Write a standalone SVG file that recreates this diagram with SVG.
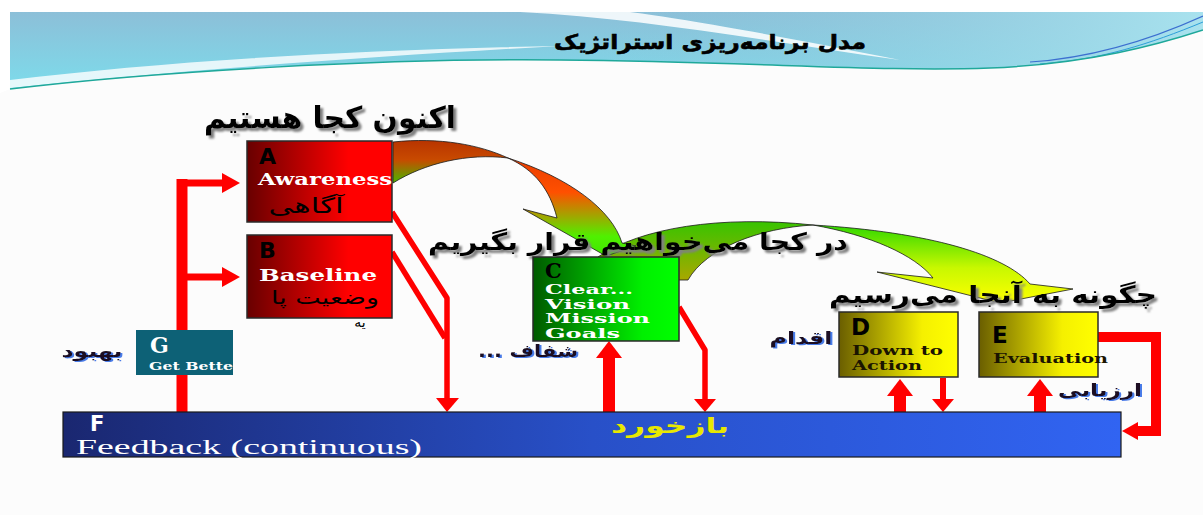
<svg xmlns="http://www.w3.org/2000/svg" width="1203" height="515" viewBox="0 0 1203 515">
<defs>
  <linearGradient id="gBanner" x1="0" y1="0" x2="0" y2="1">
    <stop offset="0" stop-color="#8CBFD8"/>
    <stop offset="1" stop-color="#7CDDEC"/>
  </linearGradient>
  <linearGradient id="gBannerR" x1="0" y1="0" x2="1" y2="0">
    <stop offset="0" stop-color="#8CC4DA" stop-opacity="0"/>
    <stop offset="1" stop-color="#A8E2EE"/>
  </linearGradient>
  <linearGradient id="gRed" x1="0" y1="0" x2="1" y2="0">
    <stop offset="0" stop-color="#680000"/>
    <stop offset="0.7" stop-color="#FF0000"/>
    <stop offset="1" stop-color="#FF0000"/>
  </linearGradient>
  <linearGradient id="gGreen" x1="0" y1="0" x2="1" y2="0">
    <stop offset="0" stop-color="#005A00"/>
    <stop offset="0.75" stop-color="#00F000"/>
    <stop offset="1" stop-color="#00FF00"/>
  </linearGradient>
  <linearGradient id="gYellow" x1="0" y1="0" x2="1" y2="0">
    <stop offset="0" stop-color="#6A5E00"/>
    <stop offset="0.7" stop-color="#F5F000"/>
    <stop offset="1" stop-color="#FFFF00"/>
  </linearGradient>
  <linearGradient id="gBlue" x1="0" y1="0" x2="1" y2="0">
    <stop offset="0" stop-color="#1A2770"/>
    <stop offset="0.5" stop-color="#2850C8"/>
    <stop offset="1" stop-color="#3164F2"/>
  </linearGradient>
  <linearGradient id="gA1" x1="0" y1="0" x2="0" y2="1">
    <stop offset="0" stop-color="#B83400"/>
    <stop offset="0.45" stop-color="#C84A00"/>
    <stop offset="1" stop-color="#48B800"/>
  </linearGradient>
  <linearGradient id="gA2" x1="0" y1="0" x2="0" y2="1">
    <stop offset="0" stop-color="#E83C00"/>
    <stop offset="0.35" stop-color="#FF5000"/>
    <stop offset="0.8" stop-color="#50F000"/>
    <stop offset="1" stop-color="#40E800"/>
  </linearGradient>
  <linearGradient id="gB1" x1="0" y1="0" x2="0" y2="1">
    <stop offset="0" stop-color="#38C400"/>
    <stop offset="1" stop-color="#A8A800"/>
  </linearGradient>
  <linearGradient id="gB2" x1="0" y1="0" x2="0" y2="1">
    <stop offset="0" stop-color="#30D800"/>
    <stop offset="0.55" stop-color="#C8F800"/>
    <stop offset="1" stop-color="#FFFF00"/>
  </linearGradient>
  <filter id="sh" x="-10%" y="-30%" width="130%" height="180%">
    <feGaussianBlur in="SourceAlpha" stdDeviation="1.2" result="b"/>
    <feOffset in="b" dx="3" dy="3" result="o"/>
    <feFlood flood-color="#808080"/>
    <feComposite in2="o" operator="in" result="s"/>
    <feMerge><feMergeNode in="s"/><feMergeNode in="SourceGraphic"/></feMerge>
  </filter>
  <filter id="shb" x="-10%" y="-30%" width="130%" height="180%">
    <feOffset in="SourceAlpha" dx="1.5" dy="1" result="o"/>
    <feFlood flood-color="#4A7BE8"/>
    <feComposite in2="o" operator="in" result="s"/>
    <feMerge><feMergeNode in="s"/><feMergeNode in="SourceGraphic"/></feMerge>
  </filter>
  <clipPath id="clipG"><rect x="136" y="330" width="97" height="45"/></clipPath>
</defs>
<style>
  .fa { font-family: "DejaVu Sans", "Noto Sans", sans-serif; }
  .big { font-weight: bold; fill: #000; filter: url(#sh); }
  .lbl { font-weight: bold; fill: #1A1020; filter: url(#shb); font-size: 17px; }
  .let { font-family: "DejaVu Sans", "Liberation Sans", sans-serif; font-weight: bold; }
  .ser { font-family: "DejaVu Serif", "Liberation Serif", serif; font-weight: bold; }
  .box { stroke: #2A2A2A; stroke-width: 1.5; }
  .red { stroke: #FF0000; fill: none; }
  .rf { fill: #FF0000; }
  .arr { stroke: #1A1A1A; stroke-width: 0.8; }
</style>

<!-- background and header -->
<rect x="0" y="0" width="1203" height="515" fill="#FFFFFF"/>
<g id="header">
  <rect x="10" y="12" width="1193" height="80" fill="url(#gBanner)"/>
  <rect x="600" y="12" width="603" height="80" fill="url(#gBannerR)"/>
  <path d="M520,12 C640,18 760,40 900,60 C780,36 680,18 630,12 Z" fill="#FFFFFF" opacity="0.85"/>
  <path d="M10,80 C160,62 340,50 560,46 C380,56 180,70 10,88 Z" fill="#FFFFFF" opacity="0.8"/>
  <path d="M1203,16 C1150,40 1090,58 1030,62" fill="none" stroke="#3C6FD0" stroke-width="1.2"/>
  <path d="M1203,22 C1150,44 1100,60 1040,64" fill="none" stroke="#2E9FD8" stroke-width="1"/>
  <path d="M0,93 L10,89 C150,72 380,58 560,60 C760,62 880,72 990,68 C1090,64 1160,44 1203,30 L1203,515 L0,515 Z" fill="#FCFCFC"/>
  <path d="M10,89 C150,72 380,58 560,60 C760,62 880,72 990,68 C1090,64 1160,44 1203,30" fill="none" stroke="#1FA89A" stroke-width="1.5"/>
  <text x="710" y="49" class="fa" font-size="20" font-weight="bold" text-anchor="middle" textLength="312" lengthAdjust="spacingAndGlyphs" stroke="#000" stroke-width="0.6">مدل برنامه‌ریزی استراتژیک</text>
</g>

<!-- curved arrows -->
<g id="curved-arrows">
  <path class="arr" fill="url(#gB1)" d="M598,257 C640,228 720,215 813,225 C760,228 706,248 688,280 L660,280 Z"/>
  <path class="arr" fill="url(#gB2)" d="M813,225 C930,232 1005,255 1030,284 L1073,289 L1000,303 L877,272 L933,278 C915,255 870,235 813,225 Z"/>
  <path class="arr" fill="url(#gA1)" d="M393,142 C440,137 480,145 508,158 C468,153 425,163 393,183 Z"/>
  <path class="arr" fill="url(#gA2)" d="M508,158 C570,178 612,210 622,243 L636,246 L606,256 L523,209 L557,218 C550,190 535,170 508,158 Z"/>
</g>

<!-- connectors -->
<g id="connectors">
  <line class="red" x1="182" y1="179" x2="182" y2="412" stroke-width="11"/>
  <line class="red" x1="182" y1="183" x2="224" y2="183" stroke-width="7"/>
  <path class="rf" d="M222,173 L240,183 L222,193 Z"/>
  <line class="red" x1="182" y1="277" x2="224" y2="277" stroke-width="7"/>
  <path class="rf" d="M222,267 L240,277 L222,287 Z"/>
  <polyline class="red" points="392,212 447,298 447,400" stroke-width="5.5" stroke-linejoin="round"/>
  <polyline class="red" points="392,252 445,338" stroke-width="5.5"/>
  <path class="rf" d="M436,398 L459,398 L447,412 Z"/>
  <rect class="rf" x="603" y="355" width="12" height="57"/>
  <path class="rf" d="M596,358 L622,358 L609,341 Z"/>
  <polyline class="red" points="679,307 705,350 705,401" stroke-width="5.5" stroke-linejoin="round"/>
  <path class="rf" d="M694,399 L716,399 L705,412 Z"/>
  <rect class="rf" x="894" y="394" width="12" height="18"/>
  <path class="rf" d="M887,396 L913,396 L900,379 Z"/>
  <line class="red" x1="943" y1="378" x2="943" y2="402" stroke-width="6"/>
  <path class="rf" d="M932,399 L954,399 L943,412 Z"/>
  <rect class="rf" x="1034" y="394" width="12" height="18"/>
  <path class="rf" d="M1027,396 L1053,396 L1040,379 Z"/>
  <polyline class="red" points="1098,337 1156,337 1156,431 1134,431" stroke-width="10" stroke-linejoin="miter"/>
  <path class="rf" d="M1138,422 L1122,431 L1138,440 Z"/>
</g>

<!-- labels over curved arrows -->
<g id="phrases">
  <text x="330" y="128" class="fa big" font-size="30" text-anchor="middle" textLength="252" lengthAdjust="spacingAndGlyphs">اکنون کجا هستیم</text>
  <text x="638" y="250" class="fa big" font-size="24" text-anchor="middle" textLength="420" lengthAdjust="spacingAndGlyphs">در کجا می‌خواهیم قرار بگیریم</text>
  <text x="993" y="303" class="fa big" font-size="24" text-anchor="middle" textLength="328" lengthAdjust="spacingAndGlyphs">چگونه به آنجا می‌رسیم</text>
</g>

<g id="nodeA">
  <rect class="box" x="247" y="141" width="145" height="81" fill="url(#gRed)"/>
  <text x="259" y="164" class="let" font-size="22" fill="#000">A</text>
  <text x="258" y="185" class="ser" font-size="16" fill="#FFFFFF" textLength="134" lengthAdjust="spacingAndGlyphs">Awareness</text>
  <text x="306" y="213" class="fa" font-size="21" fill="#000" text-anchor="middle" textLength="75" lengthAdjust="spacingAndGlyphs">آگاهی</text>
</g>

<g id="nodeB">
  <rect class="box" x="247" y="235" width="145" height="83" fill="url(#gRed)"/>
  <text x="259" y="258" class="let" font-size="22" fill="#000">B</text>
  <text x="259" y="281" class="ser" font-size="16" fill="#FFFFFF" textLength="118" lengthAdjust="spacingAndGlyphs">Baseline</text>
  <text x="325" y="304" class="fa" font-size="19" fill="#000" text-anchor="middle" textLength="108" lengthAdjust="spacingAndGlyphs">وضعیت پا</text>
  <text x="360" y="327" class="fa" font-size="14" fill="#000" text-anchor="middle">یه</text>
</g>

<g id="nodeC">
  <rect class="box" x="533" y="257" width="146" height="84" fill="url(#gGreen)"/>
  <text x="545" y="278" class="ser" font-size="21" fill="#000">C</text>
  <text x="545" y="294" class="ser" font-size="12" fill="#FFFFFF" textLength="88" lengthAdjust="spacingAndGlyphs">Clear...</text>
  <text x="545" y="308.5" class="ser" font-size="12" fill="#FFFFFF" textLength="85" lengthAdjust="spacingAndGlyphs">Vision</text>
  <text x="545" y="323" class="ser" font-size="12" fill="#FFFFFF" textLength="105" lengthAdjust="spacingAndGlyphs">Mission</text>
  <text x="545" y="337.5" class="ser" font-size="12" fill="#FFFFFF" textLength="75" lengthAdjust="spacingAndGlyphs">Goals</text>
  <text x="528" y="357" class="fa lbl" text-anchor="middle" textLength="100" lengthAdjust="spacingAndGlyphs">... شفاف</text>
</g>

<g id="nodeD">
  <rect class="box" x="839" y="312" width="119" height="65" fill="url(#gYellow)"/>
  <text x="851" y="335" class="let" font-size="23" fill="#000">D</text>
  <text x="852" y="355" class="ser" font-size="13" fill="#1A1400" textLength="91" lengthAdjust="spacingAndGlyphs">Down to</text>
  <text x="852" y="370" class="ser" font-size="13" fill="#1A1400" textLength="70" lengthAdjust="spacingAndGlyphs">Action</text>
  <text x="801" y="344" class="fa lbl" text-anchor="middle" textLength="63" lengthAdjust="spacingAndGlyphs">اقدام</text>
</g>

<g id="nodeE">
  <rect class="box" x="979" y="312" width="119" height="65" fill="url(#gYellow)"/>
  <text x="992" y="343" class="let" font-size="23" fill="#000">E</text>
  <text x="993" y="363" class="ser" font-size="13" fill="#1A1400" textLength="115" lengthAdjust="spacingAndGlyphs">Evaluation</text>
  <text x="1100" y="396" class="fa lbl" text-anchor="middle" textLength="84" lengthAdjust="spacingAndGlyphs">ارزیابی</text>
</g>

<g id="nodeG">
  <rect x="136" y="330" width="97" height="45" fill="#0D6176"/>
  <text x="150" y="353" class="ser" font-size="22" fill="#FFFFFF">G</text>
  <text x="149" y="370" class="ser" font-size="11" fill="#FFFFFF" clip-path="url(#clipG)" textLength="84" lengthAdjust="spacingAndGlyphs">Get Bette</text>
  <text x="92" y="357" class="fa lbl" text-anchor="middle" textLength="61" lengthAdjust="spacingAndGlyphs">بهبود</text>
</g>

<g id="nodeF">
  <rect x="63" y="412" width="1058" height="45" fill="url(#gBlue)" stroke="#1A1A1A" stroke-width="1.2"/>
  <text x="90" y="431" class="let" font-size="21" fill="#FFFFFF">F</text>
  <text x="76" y="454" font-family="Liberation Serif, serif" font-size="20" fill="#FFFFFF" textLength="346" lengthAdjust="spacingAndGlyphs">Feedback (continuous)</text>
  <text x="670" y="433" class="fa" font-size="21" font-weight="bold" fill="#E8E800" text-anchor="middle" textLength="118" lengthAdjust="spacingAndGlyphs">بازخورد</text>
</g>
</svg>
